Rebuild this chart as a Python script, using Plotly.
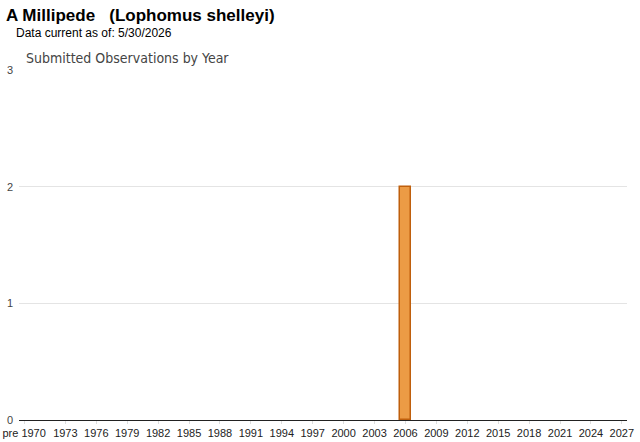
import plotly.graph_objects as go

categories = ["pre 1970"] + [str(y) for y in range(1970, 2028)]
counts = [0] * len(categories)
counts[categories.index("2006")] = 2
tick_labels = ["pre 1970"] + [str(y) for y in range(1973, 2028, 3)]

title_text = "A Millipede   (Lophomus shelleyi)"
subtitle_text = "Data current as of: 5/30/2026"
chart_title = "Submitted Observations by Year"

W, H = 640, 442
ml, mr, mt, mb = 19, 13, 70, 22
pw, ph = W - ml - mr, H - mt - mb

fig = go.Figure()
fig.add_trace(go.Bar(
    x=categories, y=counts,
    marker=dict(color="#EC9B45",
                line=dict(color="#BF5F0C", width=[1.5 if v > 0 else 0 for v in counts])),
    hoverinfo="x+y",
))


def px_ann(text, x, y, size, color, family, bold=False):
    return dict(text=("<b>" + text + "</b>") if bold else text,
                x=(x - ml) / pw, y=1 + (mt - y) / ph, xref="paper", yref="paper",
                showarrow=False, xanchor="left", yanchor="middle",
                font=dict(size=size, color=color, family=family))


fig.update_layout(
    width=W, height=H,
    margin=dict(l=ml, r=mr, t=mt, b=mb, autoexpand=False),
    paper_bgcolor="white", plot_bgcolor="white",
    bargap=0.0,
    showlegend=False,
    font=dict(family="Arial, Liberation Sans, sans-serif", size=11, color="#222222"),
    xaxis=dict(
        type="category", automargin=False,
        tickmode="array", tickvals=tick_labels, ticktext=tick_labels,
        showgrid=False, showline=True, linecolor="#222222", linewidth=1.2,
        ticks="outside", ticklen=3, tickcolor="#dddddd",
        tickfont=dict(size=11, color="#222222"),
        fixedrange=True,
    ),
    yaxis=dict(
        range=[0, 3], tickvals=[0, 1, 2, 3], automargin=False,
        showgrid=True, gridcolor="#e4e4e4", gridwidth=1,
        zeroline=False, showline=False, ticks="",
        ticklabelstandoff=5,
        tickfont=dict(size=11, color="#444444"),
        fixedrange=True,
    ),
    annotations=[
        px_ann(title_text, 4, 15, 17, "#000000", "Arial, Liberation Sans, sans-serif", bold=True),
        px_ann(subtitle_text, 14, 33, 12, "#000000", "Arial, Liberation Sans, sans-serif"),
        px_ann(chart_title, 24, 58, 14, "#444444", "DejaVu Sans Condensed, DejaVu Sans, sans-serif"),
    ],
)

fig.write_html("out.html", config={"displayModeBar": False},
               post_script="document.body.style.margin='0';document.body.style.overflow='hidden';")
